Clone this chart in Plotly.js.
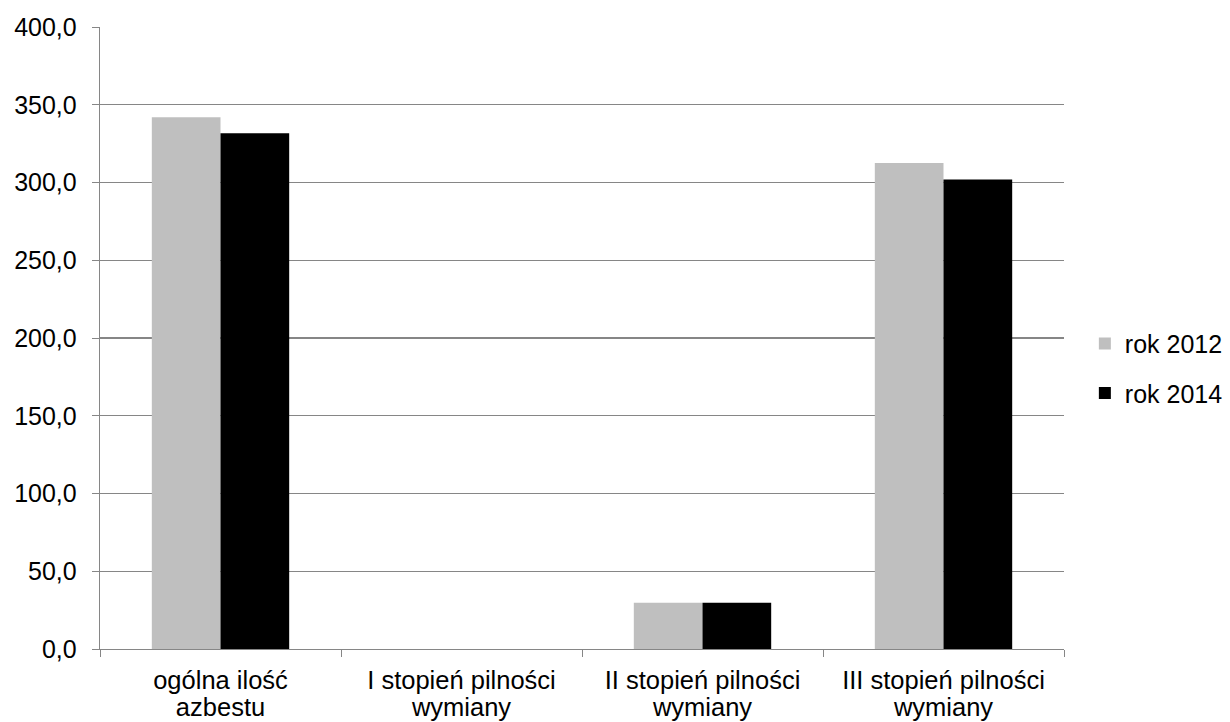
<!DOCTYPE html>
<html><head><meta charset="utf-8">
<script src="https://cdn.plot.ly/plotly-3.0.1.min.js"></script>
<style>html,body{margin:0;padding:0;background:#fff}</style>
</head><body><div id="chart" style="width:1230px;height:722px"></div>
<script>
const categories = ["ogólna ilość<br>azbestu", "I stopień pilności<br>wymiany", "II stopień pilności<br>wymiany", "III stopień pilności<br>wymiany"];
const seriesNames = ["rok 2012", "rok 2014"];
const values2012 = [341.9, 0, 29.8, 312.5];
const values2014 = [331.6, 0, 29.8, 302.0];
const yTicks = [0, 50, 100, 150, 200, 250, 300, 350, 400];

const labelLine1 = categories.map(c => c.split('<br>')[0]);
const labelLine2 = categories.map(c => c.split('<br>')[1]);
const catRange = [-0.5, categories.length - 0.5];

const traces = [
  {type:'bar', name:seriesNames[0], x:categories, y:values2012, marker:{color:'#bfbfbf'}, legendgroup:'a'},
  {type:'bar', name:seriesNames[1], x:categories, y:values2014, marker:{color:'#000000'}, legendgroup:'b'}
];
const layout = {
  width:1230, height:722,
  margin:{l:100, r:166, t:27, b:73},
  paper_bgcolor:'#fff', plot_bgcolor:'#fff',
  font:{family:'Liberation Sans, Arial, sans-serif', size:25, color:'#000'},
  separators:',.',
  barmode:'group', bargap:0.43, bargroupgap:0,
  showlegend:true,
  legend:{xref:'container', yref:'container', x:0.882, xanchor:'left', y:0.49, yanchor:'middle', tracegroupgap:14, font:{size:25}, itemwidth:30},
  xaxis:{type:'category', categoryorder:'array', categoryarray:categories, range:catRange, showline:true, linecolor:'#868686', linewidth:1.3, ticks:'outside', tickson:'boundaries', ticklen:7, tickcolor:'#868686', showgrid:false, tickmode:'array', tickvals:categories, ticktext:labelLine1, tickfont:{size:25.5}, ticklabelstandoff:8, fixedrange:true},
  xaxis2:{type:'category', overlaying:'x', anchor:'y', side:'bottom', categoryorder:'array', categoryarray:categories, range:catRange, showline:false, ticks:'', showgrid:false, zeroline:false, tickmode:'array', tickvals:categories, ticktext:labelLine2, tickfont:{size:25.5}, ticklabelstandoff:40, fixedrange:true},
  yaxis:{range:[0,400], tickvals:yTicks, tickformat:'.1f', showline:true, linecolor:'#868686', linewidth:1.3, ticks:'outside', ticklen:7, tickcolor:'#868686', showgrid:true, gridcolor:'#868686', gridwidth:1.3, zeroline:false, tickfont:{size:25}, ticklabelstandoff:10, fixedrange:true}
};
// invisible helper trace so xaxis2 is drawn
traces.push({type:'scatter', x:categories, y:values2012, xaxis:'x2', yaxis:'y', mode:'none', showlegend:false, hoverinfo:'skip'});
Plotly.newPlot('chart', traces, layout, {displayModeBar:false, staticPlot:true});
</script></body></html>
